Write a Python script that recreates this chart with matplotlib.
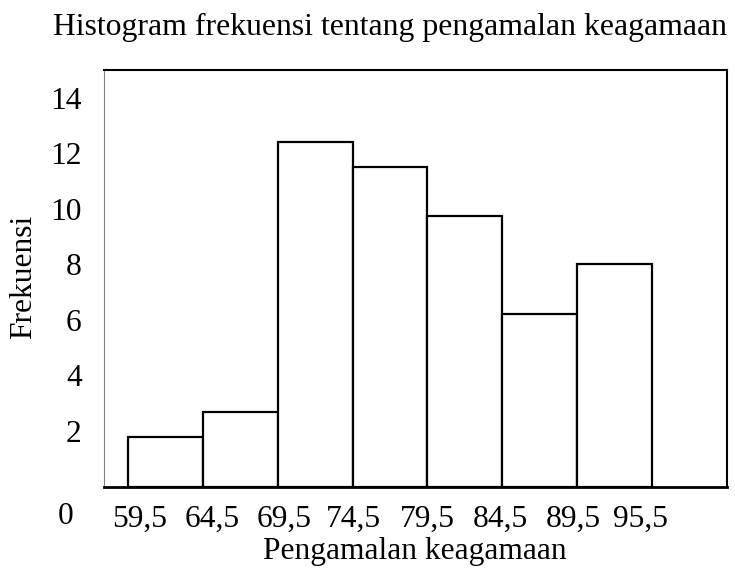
import matplotlib
matplotlib.use("Agg")
import matplotlib.pyplot as plt

plt.rcParams['font.family'] = ['Liberation Serif', 'DejaVu Serif']

tick_labels = ["59,5", "64,5", "69,5", "74,5", "79,5", "84,5", "89,5", "95,5"]
frequencies = [1.8, 2.7, 12.4, 11.5, 9.75, 6.2, 8.0]
y_ticks = [2, 4, 6, 8, 10, 12, 14]
title = "Histogram frekuensi tentang pengamalan keagamaan"
xlabel = "Pengamalan keagamaan"
ylabel = "Frekuensi"

FS = 22.7
W, H = 735, 570
fig = plt.figure(figsize=(W / 100, H / 100), dpi=100)
ax = fig.add_axes([104 / W, (H - 486.5) / H, (727 - 104) / W, (486.5 - 70) / H])

positions = list(range(len(frequencies)))
ax.bar(positions, frequencies, width=1.0, align='edge', facecolor='white',
       edgecolor='black', linewidth=1.6, zorder=2)

ax.set_xlim(-0.32, 8.0)
ax.set_ylim(0, 15)

tick_pos = [0.16, 1.12, 2.08, 3.01, 4.0, 4.97, 5.95, 6.85]
ax.set_xticks(tick_pos)
ax.set_xticklabels(tick_labels, fontsize=FS)
ax.set_yticks(y_ticks)
ax.set_yticklabels([str(v) for v in y_ticks], fontsize=FS)
ax.tick_params(axis='both', length=0)
ax.tick_params(axis='y', pad=16)
ax.tick_params(axis='x', pad=13)

ax.spines['left'].set_color('#808080')
ax.spines['left'].set_linewidth(0.8)
ax.spines['top'].set_linewidth(1.5)
ax.spines['right'].set_linewidth(1.5)
ax.spines['bottom'].set_linewidth(2.0)
for s in ['top', 'right', 'bottom']:
    ax.spines[s].set_color('black')

fig.text(66 / W, (H - 517) / H, "0", fontsize=FS, ha='center', va='center')
fig.text(390 / W, (H - 27) / H, title, fontsize=22.9, ha='center', va='center')
fig.text(415 / W, (H - 552) / H, xlabel, fontsize=FS, ha='center', va='center')
fig.text(24 / W, (H - 277) / H, ylabel, fontsize=FS, ha='center', va='center',
         rotation=90)

fig.savefig("out.png", dpi=100, facecolor='white')
